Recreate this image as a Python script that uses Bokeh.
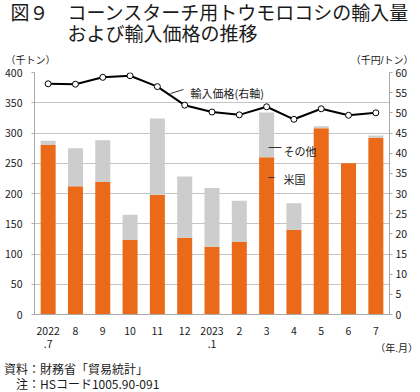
from bokeh.plotting import figure
from bokeh.layouts import column
from bokeh.models import (FactorRange, Range1d, LinearAxis, SingleIntervalTicker,
                          Label, Arrow, ColumnDataSource, Div)
from bokeh.embed import file_html
from bokeh.resources import INLINE

# ---- data ----
months = ["2022\n.7", "8", "9", "10", "11", "12", "2023\n.1", "2", "3", "4", "5", "6", "7"]
us_volume = [280, 212, 219, 123, 198, 127, 112, 120, 260, 140, 308, 250, 292]
other_volume = [7, 63, 69, 42, 126, 101, 97, 68, 74, 44, 3, 0, 4]
import_price = [57.2, 57.1, 58.8, 59.2, 56.5, 51.9, 50.2, 49.5, 51.5, 48.4, 51.0, 49.4, 50.0]

FONT = "Noto Sans CJK JP"
OUTFONT = "Liberation Sans, Noto Sans CJK JP"
ORANGE = "#EB6A1A"
GRAY = "#CDCDCD"
GRID = "#C4C4C4"
AXIS = "#AAAAAA"
TXT = "#1a1a1a"

W, H = 420, 392
FIG_H = 385                          # chart canvas height; thin footer strip below it
FL, FR, FT, FB = 34, 389, 72, 314    # plot-frame edges (page px)

src = ColumnDataSource(dict(month=months, us=us_volume, other=other_volume, price=import_price))

p = figure(x_range=FactorRange(*months, range_padding=0), y_range=Range1d(0, 400),
           width=W, height=FIG_H, output_backend="svg", toolbar_location=None,
           min_border_left=FL, min_border_right=W - FR, min_border_top=FT,
           min_border_bottom=FIG_H - FB)
p.outline_line_color = None

p.vbar_stack(["us", "other"], x="month", width=0.55, color=[ORANGE, GRAY],
             line_color=None, source=src)

p.extra_y_ranges = {"price": Range1d(0, 60)}
p.line(x="month", y="price", source=src, y_range_name="price", line_color="black", line_width=2)
p.scatter(x="month", y="price", source=src, y_range_name="price", size=6,
          fill_color="white", line_color="black", line_width=1)

la = p.yaxis[0]
la.ticker = SingleIntervalTicker(interval=50, num_minor_ticks=0)
p.ygrid.ticker = la.ticker
p.ygrid.grid_line_color = GRID
p.xgrid.grid_line_color = None

ra = LinearAxis(y_range_name="price", ticker=SingleIntervalTicker(interval=5, num_minor_ticks=0))
p.add_layout(ra, "right")

for ax in (la, ra):
    ax.axis_line_color = AXIS
    ax.major_tick_line_color = AXIS
    ax.major_tick_out = 3
    ax.major_tick_in = 0
    ax.minor_tick_line_color = None
    ax.major_label_text_font = FONT
    ax.major_label_text_font_size = "10.5px"
    ax.major_label_text_color = TXT
la.major_label_standoff = 9
ra.major_label_standoff = 3

xa = p.xaxis[0]
xa.axis_line_color = AXIS
xa.major_tick_line_color = None
xa.major_tick_out = 0
xa.major_label_text_font = FONT
xa.major_label_text_font_size = "10.5px"
xa.major_label_text_line_height = 0.92
xa.major_label_text_color = TXT
xa.major_label_standoff = 8


def toplab(rx, ry, text, size, align="left"):
    # heading texts, page px, held in the upper side panel (not clipped)
    p.add_layout(Label(x=rx, y=ry, x_units="canvas", y_units="canvas", text=text,
                       text_font=OUTFONT, text_font_size=size, text_color=TXT,
                       text_baseline="middle", text_align=align), "above")


toplab(10, 13, "図９　コーンスターチ用トウモロコシの輸入量", "19px")
toplab(10, 34, "　　　および輸入価格の推移", "19px")
toplab(5, 60, "（千トン）", "10px")
toplab(413, 60, "（千円/トン）", "10px", "right")


def flab(rx, ry, text, size):
    # label inside the plot frame (frame-relative screen units)
    p.add_layout(Label(x=rx - FL, y=FB - ry, x_units="screen", y_units="screen", text=text,
                       text_font=FONT, text_font_size=size, text_color=TXT,
                       text_baseline="middle", text_align="left"))


flab(190, 92, "輸入価格(右軸)", "11px")
flab(283, 150, "その他", "11px")
flab(283, 178, "米国", "11px")


def leader(x0, y0, x1, y1):
    p.add_layout(Arrow(x_start=x0 - FL, y_start=FB - y0, x_end=x1 - FL, y_end=FB - y1,
                       start_units="screen", end_units="screen", end=None,
                       line_color="#333333", line_width=1))


leader(170, 93, 183, 89)
leader(268, 147, 281, 147)
leader(268, 177, 274, 177)


# ---- footer strip: texts placed at page positions, drawn over the chart's lower margin ----
def span(top_page, size, lh, text, left=None, right=None):
    pos = f"right:{right}px;" if right is not None else f"left:{left}px;"
    return (f'<span style="position:absolute;{pos}top:{top_page - FIG_H}px;font-size:{size}px;'
            f'line-height:{lh}px;white-space:nowrap;">{text}</span>')


foot_html = (
    f'<div style="position:relative;width:{W}px;height:{H - FIG_H}px;'
    f"font-family:'Noto Sans CJK JP';color:{TXT};\">"
    + span(336, 10, 14, "（年.月）", right=W - 418)
    + span(355.5, 12, 15, "資料：財務省「貿易統計」", left=4)
    + span(370.5, 12, 15, "　注：HSコード1005.90-091", left=4)
    + "</div>"
)
foot = Div(text=foot_html, width=W, height=H - FIG_H, margin=0)

open("out.html", "w").write(file_html(column(p, foot, spacing=0), INLINE))
